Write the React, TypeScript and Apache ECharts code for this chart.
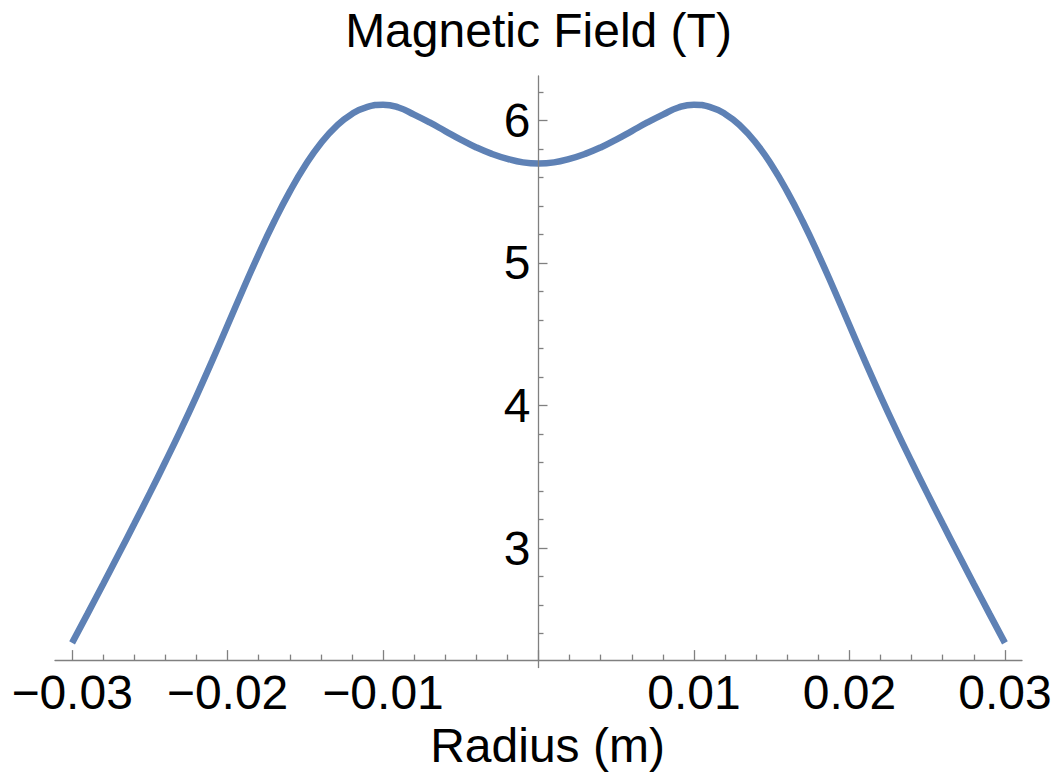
import React, { useEffect, useRef } from "react";
import * as echarts from "echarts";

// Radius values (m)
const radius = [
  -0.030, -0.029, -0.028, -0.027, -0.026, -0.025, -0.024, -0.023, -0.022, -0.021,
  -0.020, -0.019, -0.018, -0.017, -0.016, -0.015, -0.014, -0.013, -0.012, -0.011,
  -0.010, -0.009, -0.008, -0.007, -0.006, -0.005, -0.004, -0.003, -0.002, -0.001,
  0.000,
  0.001, 0.002, 0.003, 0.004, 0.005, 0.006, 0.007, 0.008, 0.009, 0.010,
  0.011, 0.012, 0.013, 0.014, 0.015, 0.016, 0.017, 0.018, 0.019, 0.020,
  0.021, 0.022, 0.023, 0.024, 0.025, 0.026, 0.027, 0.028, 0.029, 0.030,
];

// Magnetic field values (T)
const field = [
  2.335, 2.54, 2.748, 2.958, 3.17, 3.385, 3.605, 3.831, 4.066, 4.311,
  4.563, 4.815, 5.06, 5.29, 5.50, 5.685, 5.84, 5.96, 6.045, 6.095,
  6.11, 6.09, 6.04, 5.985, 5.925, 5.865, 5.81, 5.765, 5.73, 5.705,
  5.697,
  5.705, 5.73, 5.765, 5.81, 5.865, 5.925, 5.985, 6.04, 6.09, 6.11,
  6.095, 6.045, 5.96, 5.84, 5.685, 5.50, 5.29, 5.06, 4.815, 4.563,
  4.311, 4.066, 3.831, 3.605, 3.385, 3.17, 2.958, 2.748, 2.54, 2.335,
];

const xMajorTicks = [-0.03, -0.02, -0.01, 0, 0.01, 0.02, 0.03];
const xTickLabels = [-0.03, -0.02, -0.01, 0.01, 0.02, 0.03];
const xMinorTicks = [
  -0.028, -0.026, -0.024, -0.022, -0.018, -0.016, -0.014, -0.012,
  -0.008, -0.006, -0.004, -0.002, 0.002, 0.004, 0.006, 0.008,
  0.012, 0.014, 0.016, 0.018, 0.022, 0.024, 0.026, 0.028,
];
const yMajorTicks = [3, 4, 5, 6];
const yMinorTicks = [
  2.4, 2.6, 2.8, 3.2, 3.4, 3.6, 3.8, 4.2, 4.4, 4.6, 4.8,
  5.2, 5.4, 5.6, 5.8, 6.2,
];

const X_MIN = -0.0311;
const X_MAX = 0.0311;
const Y_MIN = 2.214;
const Y_MAX = 6.311;

const GRID_LEFT = 55;
const GRID_TOP = 76;
const GRID_W = 967;
const GRID_H = 589;

const FONT = "'Liberation Sans', Arial, sans-serif";
const AXIS_COLOR = "#808080";
const LINE_COLOR = "#5E81B5";

export default function App() {
  const ref = useRef<HTMLDivElement>(null);

  useEffect(() => {
    if (!ref.current) return;
    const chart = echarts.init(ref.current, undefined, { renderer: "svg" });

    const fmtX = (v: number) => {
      const s = String(Math.round(Math.abs(v) * 1000) / 1000);
      return v < 0 ? "\u2212" + s : s;
    };

    const axisLineStyle = { color: AXIS_COLOR, width: 1.3 };
    const tickStyle = { color: AXIS_COLOR, width: 1.3 };
    // move the vertical axis (with its labels) to x = 0
    const yOffset = -(GRID_W * (0 - X_MIN)) / (X_MAX - X_MIN);

    chart.setOption({
      animation: false,
      grid: { left: GRID_LEFT, top: GRID_TOP, width: GRID_W, height: GRID_H, containLabel: false },
      xAxis: [
        {
          type: "value",
          min: X_MIN,
          max: X_MAX,
          position: "bottom",
          axisLine: { show: true, onZero: false, lineStyle: axisLineStyle },
          axisTick: { show: true, inside: true, length: 10, customValues: xMajorTicks, lineStyle: tickStyle },
          axisLabel: {
            show: true,
            customValues: xTickLabels,
            formatter: fmtX,
            fontSize: 48,
            fontFamily: FONT,
            color: "#000",
            margin: 8,
          },
          splitLine: { show: false },
          name: "Radius (m)",
          nameLocation: "middle",
          nameGap: 55,
          nameTextStyle: { fontSize: 48, fontFamily: FONT, color: "#000", padding: [0, 0, 0, 18] },
        },
        {
          type: "value",
          min: X_MIN,
          max: X_MAX,
          position: "bottom",
          axisLine: { show: true, onZero: false, lineStyle: { color: AXIS_COLOR, opacity: 0 } },
          axisTick: { show: true, inside: true, length: 5.5, customValues: xMinorTicks, lineStyle: tickStyle },
          axisLabel: { show: false },
          splitLine: { show: false },
        },
      ],
      yAxis: [
        {
          type: "value",
          min: Y_MIN,
          max: Y_MAX,
          position: "left",
          offset: yOffset,
          z: 5,
          axisLine: { show: true, onZero: false, lineStyle: axisLineStyle },
          axisTick: { show: true, inside: true, length: 9, customValues: yMajorTicks, lineStyle: tickStyle },
          axisLabel: {
            show: true,
            customValues: yMajorTicks,
            fontSize: 48,
            fontFamily: FONT,
            color: "#000",
            margin: 8,
          },
          splitLine: { show: false },
          name: "Magnetic Field (T)",
          nameLocation: "end",
          nameGap: 22,
          nameTextStyle: { fontSize: 48, fontFamily: FONT, color: "#000", align: "center" },
        },
        {
          type: "value",
          min: Y_MIN,
          max: Y_MAX,
          position: "left",
          offset: yOffset,
          z: 5,
          axisLine: { show: true, onZero: false, lineStyle: { color: AXIS_COLOR, opacity: 0 } },
          axisTick: { show: true, inside: true, length: 5, customValues: yMinorTicks, lineStyle: tickStyle },
          axisLabel: { show: false },
          splitLine: { show: false },
        },
      ],
      series: [
        {
          type: "line",
          xAxisIndex: 0,
          yAxisIndex: 0,
          data: radius.map((r, i) => [r, field[i]]),
          showSymbol: false,
          smooth: true,
          lineStyle: { color: LINE_COLOR, width: 6.5, cap: "butt" },
          z: 2,
        },
      ],
    });

    const p = chart.convertToPixel({ xAxisIndex: 0, yAxisIndex: 0 }, [0, Y_MIN]) as number[];
    if (p) {
      chart.setOption({
        graphic: [
          {
            type: "line",
            shape: { x1: p[0], y1: p[1], x2: p[0], y2: p[1] + 8 },
            style: { stroke: AXIS_COLOR, lineWidth: 1.3 },
            z: 10,
          },
        ],
      });
    }

    return () => chart.dispose();
  }, []);

  return (
    <div
      ref={ref}
      style={{ position: "fixed", left: 0, top: 0, width: 1055, height: 774, background: "#fff" }}
    />
  );
}
